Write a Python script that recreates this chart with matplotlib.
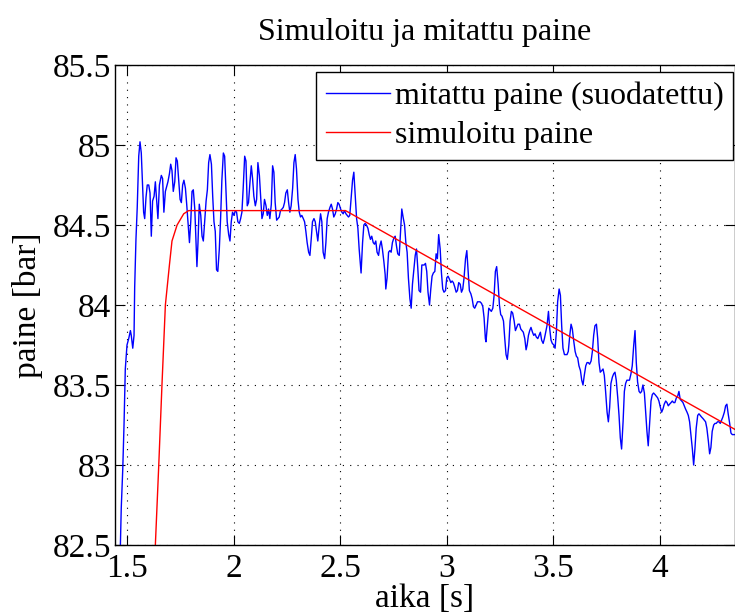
import matplotlib
matplotlib.use("Agg")
import matplotlib.pyplot as plt
from matplotlib.ticker import FuncFormatter, MultipleLocator

plt.rcParams['font.family'] = ['Liberation Serif', 'DejaVu Serif']

# Measured (filtered) pressure, time [s] and pressure [bar]
t_meas = [
    1.465, 1.469, 1.473, 1.480, 1.486, 1.492, 1.500, 1.508, 1.516, 1.520,
    1.527, 1.533, 1.536, 1.542, 1.548, 1.555, 1.561, 1.567, 1.573, 1.578,
    1.583, 1.589, 1.595, 1.602, 1.608, 1.614, 1.620, 1.627, 1.633, 1.640,
    1.645, 1.652, 1.661, 1.667, 1.673, 1.680, 1.692, 1.699, 1.705, 1.711,
    1.717, 1.724, 1.730, 1.736, 1.742, 1.749, 1.755, 1.761, 1.767, 1.774,
    1.780, 1.786, 1.793, 1.799, 1.805, 1.811, 1.818, 1.824, 1.828, 1.833,
    1.839, 1.846, 1.852, 1.858, 1.864, 1.871, 1.877, 1.883, 1.889, 1.896,
    1.902, 1.908, 1.914, 1.920, 1.926, 1.933, 1.939, 1.945, 1.952, 1.958,
    1.964, 1.970, 1.977, 1.983, 1.989, 1.995, 2.002, 2.008, 2.014, 2.020,
    2.027, 2.033, 2.039, 2.045, 2.052, 2.058, 2.064, 2.070, 2.077, 2.083,
    2.089, 2.095, 2.102, 2.108, 2.114, 2.121, 2.127, 2.133, 2.139, 2.145,
    2.152, 2.158, 2.164, 2.170, 2.177, 2.183, 2.189, 2.195, 2.202, 2.208,
    2.214, 2.220, 2.227, 2.233, 2.239, 2.245, 2.252, 2.258, 2.264, 2.270,
    2.277, 2.283, 2.289, 2.295, 2.302, 2.308, 2.314, 2.320, 2.327, 2.333,
    2.339, 2.345, 2.352, 2.358, 2.364, 2.370, 2.377, 2.383, 2.389, 2.395,
    2.402, 2.408, 2.414, 2.420, 2.427, 2.433, 2.439, 2.445, 2.452, 2.458,
    2.464, 2.470, 2.477, 2.483, 2.489, 2.495, 2.502, 2.508, 2.514, 2.520,
    2.527, 2.533, 2.539, 2.545, 2.552, 2.558, 2.564, 2.570, 2.577, 2.583,
    2.589, 2.595, 2.598, 2.605, 2.611, 2.617, 2.623, 2.630, 2.636, 2.642,
    2.648, 2.655, 2.661, 2.667, 2.673, 2.680, 2.686, 2.692, 2.698, 2.705,
    2.711, 2.714, 2.720, 2.727, 2.733, 2.739, 2.745, 2.752, 2.758, 2.764,
    2.770, 2.777, 2.783, 2.789, 2.795, 2.802, 2.808, 2.814, 2.820, 2.827,
    2.833, 2.839, 2.845, 2.852, 2.858, 2.864, 2.870, 2.877, 2.883, 2.894,
    2.900, 2.906, 2.912, 2.919, 2.925, 2.931, 2.937, 2.944, 2.950, 2.956,
    2.962, 2.969, 2.975, 2.981, 2.987, 2.994, 3.000, 3.006, 3.013, 3.019,
    3.025, 3.031, 3.038, 3.044, 3.050, 3.056, 3.063, 3.069, 3.075, 3.081,
    3.088, 3.094, 3.100, 3.106, 3.113, 3.119, 3.125, 3.131, 3.138, 3.144,
    3.150, 3.156, 3.163, 3.169, 3.175, 3.181, 3.184, 3.191, 3.197, 3.203,
    3.209, 3.216, 3.222, 3.228, 3.234, 3.241, 3.247, 3.253, 3.259, 3.266,
    3.272, 3.278, 3.284, 3.291, 3.297, 3.303, 3.309, 3.316, 3.322, 3.328,
    3.334, 3.341, 3.347, 3.353, 3.359, 3.366, 3.372, 3.377, 3.383, 3.389,
    3.395, 3.402, 3.408, 3.414, 3.420, 3.427, 3.433, 3.439, 3.445, 3.452,
    3.458, 3.464, 3.470, 3.477, 3.483, 3.489, 3.495, 3.502, 3.508, 3.514,
    3.520, 3.527, 3.533, 3.539, 3.545, 3.552, 3.558, 3.564, 3.570, 3.577,
    3.583, 3.589, 3.595, 3.602, 3.608, 3.614, 3.620, 3.627, 3.633, 3.639,
    3.645, 3.652, 3.658, 3.664, 3.670, 3.677, 3.683, 3.689, 3.695, 3.702,
    3.708, 3.714, 3.720, 3.727, 3.733, 3.739, 3.745, 3.752, 3.758, 3.764,
    3.770, 3.777, 3.783, 3.789, 3.795, 3.802, 3.808, 3.814, 3.820, 3.827,
    3.833, 3.839, 3.845, 3.852, 3.857, 3.864, 3.870, 3.877, 3.883, 3.889,
    3.895, 3.902, 3.908, 3.914, 3.920, 3.927, 3.933, 3.939, 3.945, 3.952,
    3.958, 3.964, 3.970, 3.977, 3.983, 3.989, 3.995, 4.002, 4.008, 4.014,
    4.020, 4.027, 4.033, 4.039, 4.045, 4.052, 4.058, 4.064, 4.070, 4.077,
    4.083, 4.089, 4.095, 4.102, 4.108, 4.114, 4.120, 4.127, 4.133, 4.139,
    4.145, 4.152, 4.158, 4.164, 4.170, 4.177, 4.183, 4.189, 4.195, 4.202,
    4.208, 4.214, 4.220, 4.227, 4.233, 4.239, 4.245, 4.252, 4.258, 4.264,
    4.270, 4.277, 4.283, 4.289, 4.295, 4.302, 4.308, 4.314, 4.320, 4.327,
    4.333, 4.339, 4.355,
]
p_meas = [
    82.40, 82.50, 82.73, 82.97, 83.25, 83.60, 83.75, 83.79, 83.84, 83.81,
    83.73, 83.81, 84.11, 84.41, 84.61, 84.93, 85.02, 84.95, 84.75, 84.58,
    84.54, 84.67, 84.75, 84.75, 84.70, 84.43, 84.65, 84.68, 84.77, 84.64,
    84.54, 84.75, 84.81, 84.79, 84.58, 84.71, 84.77, 84.82, 84.88, 84.84,
    84.71, 84.77, 84.92, 84.90, 84.79, 84.66, 84.64, 84.75, 84.78, 84.73,
    84.63, 84.52, 84.39, 84.52, 84.71, 84.72, 84.60, 84.39, 84.24, 84.39,
    84.63, 84.56, 84.43, 84.40, 84.52, 84.65, 84.72, 84.89, 84.94, 84.88,
    84.68, 84.52, 84.46, 84.22, 84.21, 84.35, 84.54, 84.78, 84.95, 84.93,
    84.73, 84.52, 84.44, 84.40, 84.52, 84.58, 84.56, 84.59, 84.58, 84.52,
    84.51, 84.54, 84.58, 84.73, 84.93, 84.90, 84.62, 84.64, 84.77, 84.87,
    84.79, 84.68, 84.62, 84.66, 84.89, 84.81, 84.68, 84.54, 84.57, 84.66,
    84.62, 84.56, 84.60, 84.54, 84.63, 84.87, 84.83, 84.64, 84.53, 84.54,
    84.55, 84.59, 84.60, 84.61, 84.64, 84.70, 84.72, 84.64, 84.58, 84.62,
    84.73, 84.89, 84.94, 84.85, 84.66, 84.58, 84.55, 84.56, 84.54, 84.52,
    84.46, 84.39, 84.33, 84.31, 84.41, 84.52, 84.54, 84.52, 84.46, 84.40,
    84.50, 84.57, 84.52, 84.33, 84.29, 84.39, 84.54, 84.58, 84.61, 84.63,
    84.60, 84.55, 84.57, 84.60, 84.64, 84.63, 84.60, 84.58, 84.57, 84.59,
    84.57, 84.56, 84.55, 84.56, 84.68, 84.78, 84.83, 84.70, 84.54, 84.48,
    84.35, 84.25, 84.20, 84.39, 84.50, 84.51, 84.50, 84.48, 84.44, 84.41,
    84.43, 84.39, 84.38, 84.40, 84.33, 84.31, 84.37, 84.40, 84.35, 84.27,
    84.19, 84.10, 84.17, 84.33, 84.34, 84.33, 84.39, 84.42, 84.43, 84.37,
    84.32, 84.31, 84.45, 84.60, 84.55, 84.50, 84.39, 84.33, 84.17, 84.04,
    83.98, 84.13, 84.21, 84.31, 84.35, 84.23, 84.09, 84.08, 84.25, 84.25,
    84.26, 84.21, 84.08, 84.00, 84.10, 84.18, 84.20, 84.21, 84.32, 84.29,
    84.44, 84.35, 84.20, 84.10, 84.08, 84.09, 84.17, 84.18, 84.16, 84.14,
    84.15, 84.14, 84.11, 84.08, 84.09, 84.14, 84.13, 84.08, 84.10, 84.17,
    84.29, 84.34, 84.21, 84.09, 84.07, 84.04, 83.99, 83.98, 84.00, 84.02,
    84.02, 84.02, 84.01, 83.99, 83.92, 83.79, 83.77, 83.88, 83.98, 83.97,
    83.96, 83.98, 84.06, 84.21, 84.24, 84.13, 84.00, 83.94, 83.93, 83.90,
    83.79, 83.69, 83.66, 83.75, 83.90, 83.96, 83.95, 83.90, 83.84, 83.86,
    83.88, 83.88, 83.85, 83.84, 83.83, 83.79, 83.72, 83.75, 83.81, 83.84,
    83.86, 83.83, 83.81, 83.82, 83.80, 83.79, 83.81, 83.83, 83.78, 83.76,
    83.79, 83.83, 83.87, 83.96, 83.85, 83.78, 83.76, 83.75, 83.73, 83.83,
    84.02, 84.10, 84.06, 83.87, 83.73, 83.69, 83.69, 83.69, 83.71, 83.81,
    83.88, 83.85, 83.78, 83.71, 83.68, 83.67, 83.62, 83.59, 83.53, 83.50,
    83.56, 83.62, 83.64, 83.64, 83.63, 83.65, 83.71, 83.81, 83.87, 83.88,
    83.79, 83.64, 83.58, 83.59, 83.60, 83.56, 83.46, 83.33, 83.27, 83.36,
    83.51, 83.55, 83.57, 83.58, 83.53, 83.42, 83.31, 83.17, 83.10, 83.27,
    83.46, 83.51, 83.53, 83.53, 83.53, 83.57, 83.62, 83.75, 83.84, 83.64,
    83.52, 83.46, 83.45, 83.46, 83.50, 83.45, 83.33, 83.21, 83.12, 83.27,
    83.40, 83.44, 83.45, 83.44, 83.43, 83.42, 83.40, 83.36, 83.33, 83.35,
    83.38, 83.40, 83.39, 83.37, 83.38, 83.39, 83.40, 83.39, 83.39, 83.42,
    83.43, 83.46, 83.41, 83.40, 83.39, 83.37, 83.35, 83.33, 83.31, 83.27,
    83.19, 83.10, 83.00, 83.10, 83.23, 83.31, 83.32, 83.31, 83.30, 83.29,
    83.28, 83.27, 83.23, 83.15, 83.07, 83.11, 83.21, 83.25, 83.26, 83.26,
    83.27, 83.27, 83.26, 83.28, 83.30, 83.33, 83.37, 83.38, 83.32, 83.26,
    83.20, 83.19, 83.19,
]

# Simulated pressure
t_sim = [1.620, 1.633, 1.649, 1.664, 1.680, 1.699, 1.711, 1.735, 1.766, 1.789, 2.525, 4.355]
p_sim = [82.00, 82.50, 83.00, 83.50, 84.00, 84.25, 84.40, 84.50, 84.57, 84.59, 84.59, 83.22]

fig = plt.figure(figsize=(7.35, 6.16), dpi=100)
ax = fig.add_axes([115 / 735, 71 / 616, 620 / 735, 480 / 616])

ax.plot(t_meas, p_meas, color=(0, 0, 1), linewidth=1.0, label='mitattu paine (suodatettu)')
ax.plot(t_sim, p_sim, color=(1, 0, 0), linewidth=1.0, label='simuloitu paine')

ax.set_xlim(1.4437, 4.352)
ax.set_ylim(82.5, 85.5)
ax.xaxis.set_major_locator(MultipleLocator(0.5))
ax.yaxis.set_major_locator(MultipleLocator(0.5))
fmt = FuncFormatter(lambda v, pos: '%g' % v)
ax.xaxis.set_major_formatter(fmt)
ax.yaxis.set_major_formatter(fmt)

ax.tick_params(direction='in', top=True, right=True, length=7, width=0.8,
               labelsize=24)
ax.tick_params(axis='x', pad=6)
ax.tick_params(axis='y', pad=3)
for s in ax.spines.values():
    s.set_linewidth(1.0)
ax.grid(True, color='k', linestyle=(0, (1, 5.6)), linewidth=0.8)

ax.set_title('Simuloitu ja mitattu paine', fontsize=23, pad=18)
ax.set_xlabel('aika [s]', fontsize=24, labelpad=0)
ax.set_ylabel('paine [bar]', fontsize=24, labelpad=7)

leg = ax.legend(loc='upper right', bbox_to_anchor=(0.9968, 0.9854), fontsize=23,
                fancybox=False, framealpha=1, edgecolor='k', handlelength=2.0,
                handletextpad=0.15, borderaxespad=0, borderpad=0.3,
                labelspacing=0.3)
leg.get_frame().set_linewidth(1.0)

fig.savefig('out.png', dpi=100)
